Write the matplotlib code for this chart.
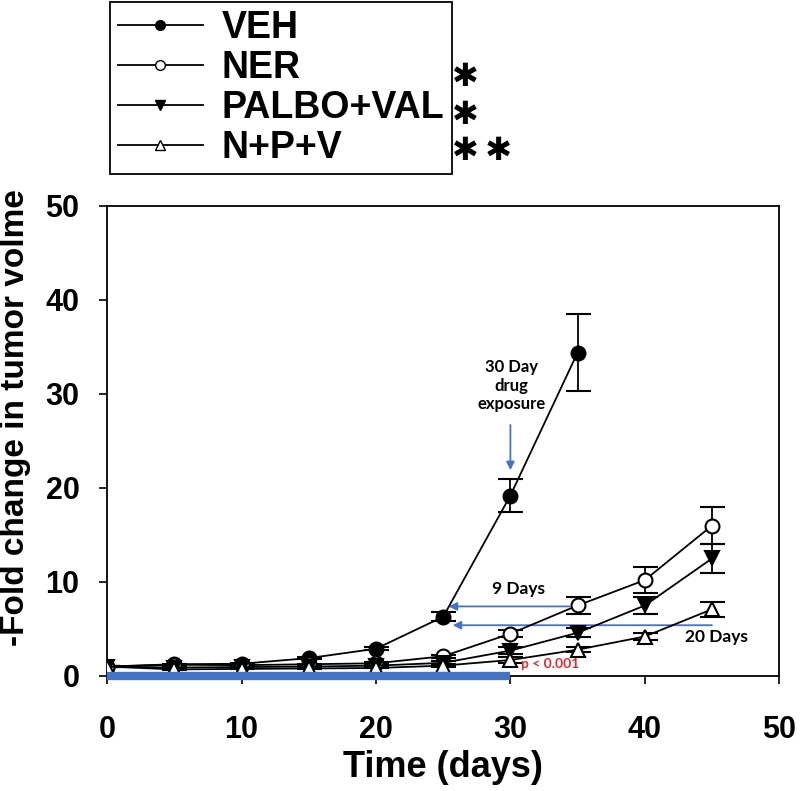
import matplotlib
matplotlib.use("Agg")
import matplotlib.pyplot as plt
from matplotlib.lines import Line2D

# data
days = [0, 5, 10, 15, 20, 25, 30, 35, 40, 45]
veh_days = days[:8]
veh = [1.0, 1.25, 1.3, 1.9, 2.9, 6.3, 19.2, 34.4]
veh_err = [0.05, 0.05, 0.05, 0.1, 0.15, 0.5, 1.8, 4.1]
ner = [1.0, 1.2, 1.15, 1.25, 1.35, 2.1, 4.5, 7.5, 10.2, 16.0]
ner_err = [0.05, 0.05, 0.05, 0.05, 0.1, 0.15, 0.4, 0.9, 1.4, 2.0]
palbo = [1.0, 0.9, 0.95, 1.0, 1.1, 1.4, 2.7, 4.6, 7.5, 12.5]
palbo_err = [0.05, 0.05, 0.05, 0.05, 0.05, 0.15, 0.4, 0.5, 0.9, 1.5]
npv = [1.0, 0.7, 0.75, 0.8, 0.85, 1.1, 1.7, 2.8, 4.2, 7.1]
npv_err = [0.05, 0.05, 0.05, 0.05, 0.05, 0.1, 0.3, 0.3, 0.4, 0.8]
labels = ["VEH", "NER", "PALBO+VAL", "N+P+V"]
stars = ["", "\u2731", "\u2731", "\u2731\u2009\u2731"]

BLUE = "#4472c4"
RED = "#e8262d"
FONT = "Liberation Sans"
ANN = "Lato"

fig = plt.figure(figsize=(8, 7.91), dpi=100)
ax = fig.add_axes([0.134, 0.1454, 0.84, 0.5942])

common = dict(color="black", lw=1.3, capsize=9, elinewidth=1.3, capthick=1.3,
              markersize=10, markeredgewidth=1.5, zorder=3)
ax.errorbar(veh_days, veh, yerr=veh_err, marker="o", mfc="black", **common)
ax.errorbar(days, ner, yerr=ner_err, marker="o", mfc="white", **common)
ax.errorbar(days, palbo, yerr=palbo_err, marker="v", mfc="black", **common)
ax.errorbar(days, npv, yerr=npv_err, marker="^", mfc="white", **common)

# drug exposure bar
ax.plot([0, 30], [0, 0], color=BLUE, lw=6, solid_capstyle="butt", clip_on=False, zorder=4)

# blue arrows
arr = dict(arrowstyle="-|>", color=BLUE, lw=1.3, mutation_scale=12)
ax.annotate("", xy=(30, 21.6), xytext=(30, 27.0), arrowprops=arr)
ax.annotate("", xy=(25.2, 7.4), xytext=(34.6, 7.4), arrowprops=arr)
ax.annotate("", xy=(25.5, 5.4), xytext=(45.2, 5.4), arrowprops=arr)
ax.text(30.1, 30.9, "30 Day\ndrug\nexposure", ha="center", va="center",
        fontsize=12, fontweight="bold", family=ANN, linespacing=1.2)
ax.text(30.6, 9.3, "9 Days", ha="center", va="center", fontsize=12.5,
        fontweight="bold", family=ANN)
ax.text(45.3, 4.2, "20 Days", ha="center", va="center", fontsize=12.5,
        fontweight="bold", family=ANN)

# red significance arrow
ax.annotate("", xy=(30, 5.1), xytext=(30, 1.6),
            arrowprops=dict(arrowstyle="<|-|>", color=RED, lw=1.3, mutation_scale=8))
ax.text(30.8, 1.3, "p < 0.001", ha="left", va="center", fontsize=10,
        fontweight="bold", color=RED, family=ANN)

ax.set_xlim(0, 50)
ax.set_ylim(0, 50)
ax.set_xticks(range(0, 51, 10))
ax.set_yticks(range(0, 51, 10))
ax.tick_params(direction="out", length=6, width=1.2)
ax.tick_params(axis="x", pad=22)
ax.tick_params(axis="y", pad=14)
for lab in ax.get_xticklabels() + ax.get_yticklabels():
    lab.set_fontsize(22)
    lab.set_fontweight("bold")
    lab.set_family(FONT)
for sp in ax.spines.values():
    sp.set_linewidth(1.3)
ax.set_xlabel("Time (days)", fontsize=26, fontweight="bold", family=FONT, labelpad=4)
ax.set_ylabel("-Fold change in tumor volme", fontsize=24, fontweight="bold", family=FONT)
ax.yaxis.set_label_coords(-0.113, 0.55)

# legend without error bars
handles = [
    Line2D([], [], color="black", lw=1.3, marker="o", mfc="black", mec="black", ms=7),
    Line2D([], [], color="black", lw=1.3, marker="o", mfc="white", mec="black", ms=7),
    Line2D([], [], color="black", lw=1.3, marker="v", mfc="black", mec="black", ms=7),
    Line2D([], [], color="black", lw=1.3, marker="^", mfc="white", mec="black", ms=7),
]
leg = fig.legend(handles, labels, loc="upper left",
                 bbox_to_anchor=(0.1375, 0.997), borderaxespad=0,
                 frameon=True, fancybox=False, edgecolor="black", framealpha=1,
                 handlelength=2.27, handletextpad=0.5, labelspacing=0.11,
                 borderpad=0.2, prop=dict(family=FONT, weight="bold", size=27))
leg.get_frame().set_linewidth(1.3)
star_y = [0, 77, 115, 151]
for s, y in zip(stars, star_y):
    if s:
        fig.text(0.565, 1 - y / 791, s, fontsize=23,
                 family="DejaVu Sans", va="center", ha="left")

fig.savefig("out.png", dpi=100)
